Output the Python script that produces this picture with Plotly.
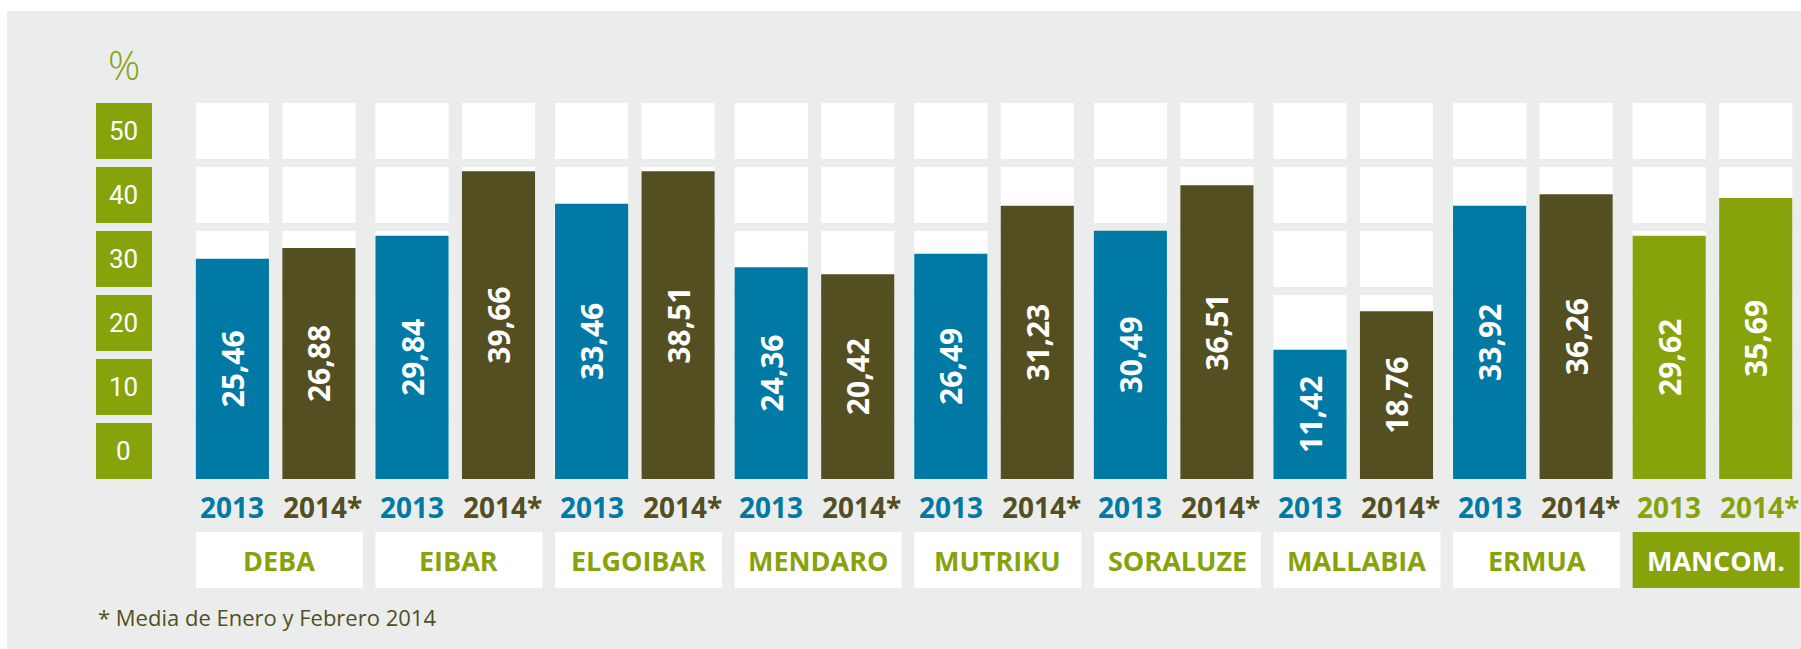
import plotly.graph_objects as go

# data
towns = ["DEBA", "EIBAR", "ELGOIBAR", "MENDARO", "MUTRIKU", "SORALUZE", "MALLABIA", "ERMUA", "MANCOM."]
years = ["2013", "2014*"]
val_2013 = [25.46, 29.84, 33.46, 24.36, 26.49, 30.49, 11.42, 33.92, 29.62]
val_2014 = [26.88, 39.66, 38.51, 20.42, 31.23, 36.51, 18.76, 36.26, 35.69]
# heights as the bars are actually drawn against the 0-50 grid
bar_2013 = [34.4, 38.0, 43.0, 33.1, 35.2, 38.8, 20.2, 42.7, 38.0]
bar_2014 = [36.1, 48.1, 48.1, 32.0, 42.7, 45.9, 26.2, 44.5, 43.9]
grid_ticks = [0, 10, 20, 30, 40, 50]
footnote = "* Media de Enero y Febrero 2014"

BLUE = "#0079a5"
OLIVE = "#544f20"
GREEN = "#86a30c"
GREY = "#ebedec"

W, H = 1801, 649
CELL = 8.75          # grid cell height (units)
OFF = 0.2408         # bar centre offset from category centre
BW = 0.407           # bar width (category units)


def fmt(v):
    return f"{v:.2f}".replace(".", ",")


def colors(default):
    return [GREEN if t == "MANCOM." else default for t in towns]


fig = go.Figure()

fig.add_trace(go.Bar(x=towns, y=bar_2013, name=years[0], offsetgroup="a",
                     marker=dict(color=colors(BLUE), line=dict(width=0)),
                     text=[fmt(v) for v in val_2013]))
fig.add_trace(go.Bar(x=towns, y=bar_2014, name=years[1], offsetgroup="b",
                     marker=dict(color=colors(OLIVE), line=dict(width=0)),
                     text=[fmt(v) for v in val_2014]))
fig.update_traces(textposition="inside", insidetextanchor="middle", textangle=-90,
                  textfont=dict(family="Open Sans", size=30, color="white", weight="bold"),
                  hoverinfo="skip", cliponaxis=False)

shapes = []
# grey panel
shapes.append(dict(type="rect", xref="paper", yref="paper", x0=7 / W, x1=1, y0=0, y1=1 - 11 / H,
                   fillcolor=GREY, line=dict(width=0), layer="below"))
# white grid cells behind every bar
for i in range(len(towns)):
    for s in (-1, 1):
        xc = i + s * OFF
        for t in grid_ticks:
            shapes.append(dict(type="rect", xref="x", yref="y", x0=xc - BW / 2, x1=xc + BW / 2,
                               y0=t, y1=t + CELL, fillcolor="white", line=dict(width=0), layer="below"))
# green scale boxes
for t in grid_ticks:
    shapes.append(dict(type="rect", xref="paper", yref="y", x0=96 / W, x1=152 / W, y0=t, y1=t + CELL,
                       fillcolor=GREEN, line=dict(width=0), layer="below"))
# town label boxes
for i, t in enumerate(towns):
    x0 = i - OFF - BW / 2
    shapes.append(dict(type="rect", xref="x", yref="y", x0=x0, x1=x0 + 0.93, y0=-17.05, y1=-8.3,
                       fillcolor=GREEN if t == "MANCOM." else "white", line=dict(width=0), layer="below"))

ann = []
for t in grid_ticks:
    ann.append(dict(x=124 / W, xref="paper", xanchor="center", y=t + CELL / 2, yref="y",
                    text=str(t), showarrow=False,
                    font=dict(family="Roboto", size=26, color="white")))
ann.append(dict(x=124 / W, xref="paper", xanchor="center", y=64.8, yref="y", text="%", showarrow=False,
                font=dict(family="Open Sans", size=40, color=GREEN, weight=300)))
for i, t in enumerate(towns):
    c13 = GREEN if t == "MANCOM." else BLUE
    c14 = GREEN if t == "MANCOM." else OLIVE
    ann.append(dict(x=i - OFF, y=-4.375, xref="x", yref="y", text=years[0], showarrow=False,
                    font=dict(family="Open Sans", size=28, color=c13, weight="bold")))
    ann.append(dict(x=i + OFF, y=-4.375, xref="x", yref="y", text=years[1], showarrow=False, xshift=4,
                    font=dict(family="Open Sans", size=28, color=c14, weight="bold")))
    ann.append(dict(x=i - OFF - BW / 2 + 0.465, y=-12.67, xref="x", yref="y", text=t, showarrow=False,
                    font=dict(family="Open Sans", size=27, weight="bold",
                              color="white" if t == "MANCOM." else GREEN)))
ann.append(dict(x=96 / W, xref="paper", xanchor="left", y=-21.6, yref="y", text=footnote,
                showarrow=False, font=dict(family="Open Sans", size=22, color=OLIVE)))

fig.update_layout(
    width=W, height=H,
    margin=dict(l=0, r=0, t=0, b=0),
    paper_bgcolor="white", plot_bgcolor="rgba(0,0,0,0)",
    barmode="group", bargap=0.0368, bargroupgap=0.155,
    showlegend=False,
    shapes=shapes, annotations=ann,
    xaxis=dict(range=[-1.5348, 8.493], visible=False, fixedrange=True),
    yaxis=dict(range=[-26.5625, 74.84], visible=False, fixedrange=True),
)

# drop the page's default body margin so the figure sits at the window's corner
fig.write_html("out.html", config={"displayModeBar": False},
               post_script="document.body.style.margin='0';document.body.style.overflow='hidden';")
